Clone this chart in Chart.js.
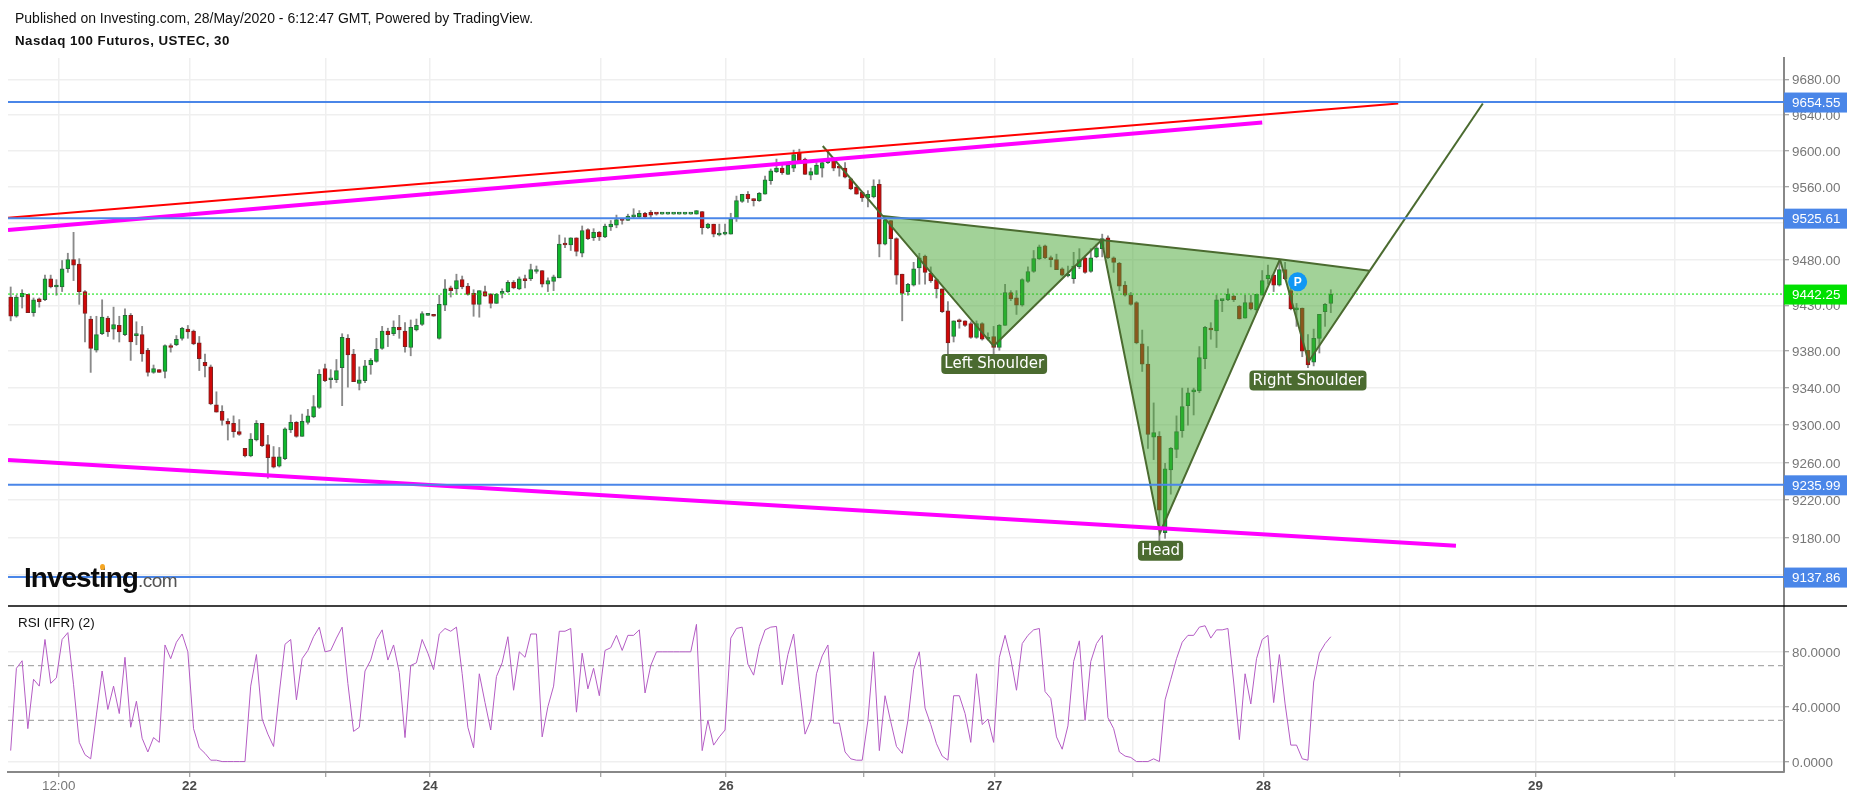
<!DOCTYPE html>
<html lang="en">
<head>
<meta charset="UTF-8">
<title>Nasdaq 100 Futuros, USTEC, 30</title>
<script src="https://cdn.jsdelivr.net/npm/chart.js"></script>
<style>
    html, body { margin: 0; padding: 0; background: #fff; overflow: hidden; }
    body { width: 1854px; height: 800px; position: relative; font-family: "Liberation Sans", Arial, sans-serif; }
    canvas { position: absolute; left: 0; top: 0; }
    .note { position: absolute; white-space: nowrap; color: #111; }
    #published { left: 15px; top: 10px; font-size: 14px; }
    #symbol { left: 15px; top: 33px; font-size: 13.3px; font-weight: bold; letter-spacing: 0.45px; }
    #rsiName { left: 18px; top: 615px; font-size: 13.4px; }
    #logo { left: 24px; top: 562px; font-size: 28px; font-weight: bold; letter-spacing: -1px; color: #0b0b0b; }
    #logo span { font-size: 19px; font-weight: normal; color: #555; letter-spacing: -0.5px; }
    #logoDot { position: absolute; left: 100px; top: 564px; width: 5px; height: 6px; border-radius: 50%; background: #f5a623; }
</style>
</head>
<body>
<canvas id="chart" width="1854" height="800"></canvas>
<div class="note" id="published">Published on Investing.com, 28/May/2020 - 6:12:47 GMT, Powered by TradingView.</div>
<div class="note" id="symbol">Nasdaq 100 Futuros, USTEC, 30</div>
<div class="note" id="rsiName">RSI (IFR) (2)</div>
<div class="note" id="logo">Investing<span>.com</span></div>
<div id="logoDot"></div>

<script>
// candles (30 minute bars)
const opens = [
    9439,9418,9439,9442,9422,9437,9436,9459,9450,9450,
    9470,9480,9475,9445,9415,9381,9399,9416,9404,9408,
    9398,9419,9397,9398,9381,9357,9360,9358,9386,9387,
    9394,9404,9402,9389,9368,9363,9322,9315,9304,9302,
    9293,9275,9267,9284,9302,9279,9266,9256,9264,9295,
    9303,9288,9303,9309,9319,9361,9349,9349,9362,9394,
    9377,9345,9348,9365,9369,9383,9402,9399,9406,9402,
    9384,9403,9409,9419,9419,9394,9430,9449,9448,9458,
    9451,9443,9431,9445,9442,9432,9443,9445,9455,9448,
    9459,9459,9467,9468,9453,9456,9460,9498,9496,9504,
    9487,9513,9504,9510,9505,9516,9518,9524,9523,9527,
    9527,9531,9532,9531,9530,9530,9530,9530,9530,9530,
    9530,9533,9515,9519,9507,9508,9508,9525,9544,9552,
    9546,9545,9552,9567,9577,9581,9574,9581,9598,9591,
    9573,9574,9581,9587,9591,9582,9581,9569,9560,9554,
    9548,9549,9563,9497,9523,9503,9464,9445,9452,9471,
    9484,9465,9458,9448,9424,9396,9414,9413,9410,9395,
    9410,9393,9396,9384,9408,9444,9438,9430,9456,9467,
    9481,9495,9481,9480,9470,9462,9459,9472,9482,9467,
    9483,9492,9504,9482,9476,9452,9441,9433,9388,9366,
    9287,9288,9185,9252,9274,9294,9321,9336,9337,9372,
    9405,9402,9435,9436,9440,9429,9416,9433,9425,9441,
    9459,9463,9452,9469,9446,9425,9427,9381,9368,9394,9423,9432
];
const highs = [
    9450,9441,9447,9442,9438,9438,9463,9463,9458,9479,
    9487,9510,9481,9446,9418,9418,9436,9418,9428,9418,
    9426,9421,9412,9407,9383,9365,9360,9387,9388,9397,
    9406,9408,9403,9396,9377,9365,9336,9321,9307,9310,
    9306,9275,9291,9305,9302,9289,9277,9276,9297,9311,
    9304,9312,9317,9332,9360,9366,9360,9371,9399,9398,
    9382,9363,9370,9372,9394,9407,9405,9413,9419,9411,
    9414,9415,9423,9420,9419,9441,9458,9451,9464,9462,
    9454,9447,9446,9451,9443,9443,9448,9457,9457,9461,
    9463,9475,9473,9468,9460,9463,9507,9504,9504,9504,
    9517,9514,9514,9511,9519,9523,9529,9525,9530,9536,
    9534,9532,9534,9531,9530,9530,9530,9530,9530,9530,
    9534,9533,9520,9519,9519,9519,9531,9550,9552,9555,
    9547,9554,9572,9580,9591,9587,9587,9601,9602,9592,
    9581,9587,9589,9600,9593,9583,9587,9570,9561,9555,
    9556,9568,9568,9527,9523,9504,9464,9454,9477,9487,
    9485,9472,9459,9448,9434,9413,9415,9413,9412,9413,
    9411,9400,9407,9409,9453,9446,9446,9459,9472,9490,
    9496,9496,9484,9486,9471,9473,9488,9492,9484,9492,
    9497,9508,9506,9483,9477,9456,9444,9434,9403,9385,
    9324,9293,9259,9276,9310,9340,9340,9340,9385,9407,
    9411,9441,9436,9448,9441,9430,9441,9441,9442,9468,
    9474,9463,9480,9477,9453,9432,9427,9398,9404,9420,9432,9447
];
const lows = [
    9413,9417,9427,9422,9418,9428,9435,9449,9441,9445,
    9466,9457,9431,9390,9357,9379,9398,9396,9393,9390,
    9397,9370,9387,9369,9353,9356,9357,9351,9379,9386,
    9392,9394,9387,9359,9352,9322,9314,9300,9284,9287,
    9289,9266,9266,9283,9277,9243,9254,9255,9263,9292,
    9287,9288,9301,9308,9318,9347,9340,9346,9321,9341,
    9347,9338,9346,9355,9368,9382,9385,9397,9394,9379,
    9375,9402,9408,9419,9418,9393,9424,9439,9442,9448,
    9441,9418,9417,9440,9427,9432,9438,9444,9448,9447,
    9449,9457,9465,9450,9445,9446,9460,9493,9490,9484,
    9483,9502,9501,9501,9504,9512,9515,9519,9523,9526,
    9526,9526,9526,9529,9530,9530,9530,9530,9530,9530,
    9530,9508,9514,9505,9506,9507,9508,9522,9543,9543,
    9539,9544,9552,9563,9576,9574,9574,9577,9589,9574,
    9568,9574,9571,9586,9578,9572,9570,9557,9552,9544,
    9538,9548,9483,9496,9480,9453,9413,9441,9451,9453,
    9453,9455,9438,9422,9376,9390,9405,9407,9394,9394,
    9392,9392,9377,9381,9408,9435,9420,9429,9455,9466,
    9480,9481,9472,9469,9462,9461,9454,9470,9465,9466,
    9482,9483,9481,9466,9446,9440,9430,9388,9358,9275,
    9263,9175,9179,9226,9265,9287,9300,9311,9335,9361,
    9393,9384,9423,9435,9434,9415,9416,9425,9422,9441,
    9453,9445,9451,9458,9425,9407,9374,9362,9364,9378,9407,9422
];
const closes = [
    9418,9439,9443,9422,9436,9434,9459,9450,9451,9470,
    9480,9474,9445,9421,9383,9398,9417,9401,9409,9401,
    9419,9390,9398,9377,9357,9361,9357,9386,9384,9393,
    9405,9401,9388,9372,9364,9323,9314,9305,9301,9293,
    9290,9267,9285,9302,9278,9265,9255,9266,9296,9303,
    9288,9304,9310,9320,9355,9348,9350,9359,9395,9376,
    9347,9349,9364,9370,9382,9402,9398,9406,9403,9385,
    9406,9408,9421,9420,9418,9431,9448,9446,9457,9450,
    9442,9431,9446,9440,9432,9442,9444,9455,9449,9459,
    9457,9469,9469,9453,9457,9461,9497,9496,9504,9489,
    9512,9503,9510,9505,9517,9519,9524,9523,9528,9529,
    9531,9527,9529,9530,9530,9530,9530,9530,9530,9530,
    9534,9515,9519,9508,9509,9510,9525,9545,9552,9547,
    9545,9553,9568,9578,9581,9576,9584,9596,9589,9574,
    9577,9584,9587,9591,9581,9581,9571,9558,9552,9548,
    9552,9561,9497,9524,9503,9463,9443,9453,9470,9482,
    9466,9457,9448,9423,9389,9413,9412,9408,9395,9410,
    9393,9394,9384,9408,9444,9437,9430,9458,9467,9481,
    9494,9482,9480,9469,9463,9464,9473,9480,9466,9482,
    9493,9503,9482,9477,9451,9441,9431,9389,9366,9290,
    9292,9209,9253,9275,9293,9320,9335,9338,9373,9406,
    9403,9436,9436,9442,9436,9415,9433,9426,9442,9457,
    9463,9452,9469,9459,9426,9427,9380,9365,9394,9420,9431,9442
];
// RSI (2), one value per candle
const rsiValues = [
    8,68,73.5,24,60,55,89,57,61,89,
    94,56,14,5,2,34,66,38,55,35,
    76,25,44,17,7,17.5,14,85,75,87,
    93,80,24,10,6,1,1,0,0,0,
    0,0,55,78,31,20,11,50,85.5,89,
    45,75,81,91,98,80,81,90,98,57,
    22,25,66,74,89,96,74,85,65,17.5,
    70,72,89,79,67,93,97,95,98,64,
    25,10,64,43,23,62,72,91,52,80,
    76,93,93,18,40,55,95,95,97,36,
    79,53,68,48,81,83,92,81,92,92,
    96,50,70,80,80,80,80,80,80,80,
    100,8,30,12,18,23,90,97,98,71,
    63,84,96,98,98.5,56,78,93,55,20,
    30,64,77,85,28,28,7,2,1,1,
    30,80,8,48,29,11,6,30,67,80,
    39,27,13,4,1,48,48,35,14,64,
    27,31,14,76,92,75,52,86,92,96,
    97,51,46,18,9,26,73,88,30,73,
    86,92,32,24,7,4,3,0,0,0,
    2,0,45,60,75,87,92,92,98,99,
    90,96,96,97,58,16,64,42,75,89,
    92,43,78,42,12,12,2,1,58,79,86,91
];

// axes (bar numbers, not dates: weekends and closures are not on the axis)
const xTickPositions = [8.4,31.3,55.2,73.4,103.3,125.2,149.2,172.2,196.3,219.2,243,266.8,291.2];
const xTickLabels = ['12:00','22','','24','','26','','27','','28','','29',''];
const priceTicks = [9680,9640,9600,9560,9520,9480,9430,9380,9340,9300,9260,9220,9180,9140];
const rsiTicks = [0,40,80];
const rsiLevels = [70,30];

// horizontal levels with their labels on the price axis
const levelPrices = [9654.55,9525.61,9235.99,9137.86];
const lastPrice = 9442.25;

// hand drawn lines as bar number / price
const redLineX = [-0.47,242.8];
const redLineY = [9526.1,9652.9];
const upperChannelX = [-0.47,219];
const upperChannelY = [9512.6,9631.8];
const lowerChannelX = [-0.47,252.9];
const lowerChannelY = [9262.5,9171];
const approachX = [142.1,152.6];
const approachY = [9605.5,9527.9];
const neckX = [152.6,190.9,222.1,237.8];
const neckY = [9527.9,9501.5,9480.3,9467.7];
const dipX = [172,201.1,227.1];
const dipY = [9385.6,9184.6,9368.6];
const breakoutX = [237.8,257.6];
const breakoutY = [9467.7,9652.9];

const calloutLabels = ['Left Shoulder','Head','Right Shoulder'];
const calloutX = [172.1,201.2,227];
const calloutY = [9366.1,9165.7,9348.2];
const markerX = 225.2;
const markerY = 9455.6;

const xMin = -0.47, xMax = 310.3;
const priceMin = 9107.3, priceMax = 9703.9;
const rsiMin = -7.6, rsiMax = 113.4;

const PATTERN = '#4b6b30';
const PATTERN_FILL = 'rgba(70,165,50,0.5)';
const BLUE = '#4a86e8';
const LIME = '#00e000';
const AXIS = '#888888';
const GRID = '#efefef';

const points = (xs, ys) => xs.map((x, i) => ({x: x, y: ys[i]}));

function lineSet(data, color, width, extra) {
    return Object.assign({
        type: 'line', data: data, borderColor: color, borderWidth: width,
        pointRadius: 0, tension: 0, fill: false, order: 1, yAxisID: 'y'
    }, extra || {});
}

const isUp = opens.map((o, i) => closes[i] >= o);

const datasets = [
    {
        type: 'bar', label: 'wicks', order: 6, yAxisID: 'y',
        data: highs.map((h, i) => ({x: i, y: [lows[i], h]})),
        backgroundColor: '#8a8a8a', barThickness: 1.2, grouped: false, borderSkipped: false
    },
    {
        type: 'bar', label: 'bodies', order: 5, yAxisID: 'y',
        data: opens.map((o, i) => ({x: i, y: [o, closes[i]]})),
        backgroundColor: isUp.map(u => u ? '#0fb82b' : '#d00808'),
        borderColor: isUp.map(u => u ? '#27693a' : '#7c2222'),
        borderWidth: 1, barThickness: 4, minBarLength: 2, grouped: false, borderSkipped: false
    },
    lineSet(points([xMin, xMax], [rsiLevels[0], rsiLevels[0]]), '#aaaaaa', 1.3, {yAxisID: 'rsi', borderDash: [6, 4], order: 4}),
    lineSet(points([xMin, xMax], [rsiLevels[1], rsiLevels[1]]), '#aaaaaa', 1.3, {yAxisID: 'rsi', borderDash: [6, 4], order: 4}),
    lineSet(rsiValues.map((v, i) => ({x: i, y: v})), '#b45cc4', 1, {yAxisID: 'rsi', order: 3}),
    lineSet(points([xMin, xMax], [lastPrice, lastPrice]), LIME, 1, {borderDash: [2, 2], order: 2})
];

levelPrices.forEach(p => {
    datasets.push(lineSet(points([xMin, xMax], [p, p]), BLUE, 2));
});
datasets.push(lineSet(points(redLineX, redLineY), '#ff0000', 2));
datasets.push(lineSet(points(upperChannelX, upperChannelY), '#ff00ff', 4));
datasets.push(lineSet(points(lowerChannelX, lowerChannelY), '#ff00ff', 4));
datasets.push(lineSet(points(approachX, approachY), PATTERN, 2));
datasets.push(lineSet(points(breakoutX, breakoutY), PATTERN, 2));

// the three triangles: neck edge first, then the two lower edges filled up to it
dipX.forEach((x, i) => {
    const edgeX = [neckX[i], neckX[i + 1]];
    const edgeY = [neckY[i], neckY[i + 1]];
    datasets.push(lineSet(points(edgeX, edgeY), PATTERN, 2));
    datasets.push(lineSet(points([edgeX[0], x, edgeX[1]], [edgeY[0], dipY[i], edgeY[1]]), PATTERN, 2, {
        fill: {target: '-1', above: PATTERN_FILL, below: PATTERN_FILL}
    }));
});

function roundedBox(ctx, x, y, w, h, r, color) {
    ctx.fillStyle = color;
    ctx.beginPath();
    ctx.roundRect(x, y, w, h, r);
    ctx.fill();
}

const extras = {
    id: 'extras',
    afterDraw(chart) {
        const ctx = chart.ctx, x = chart.scales.x, y = chart.scales.y, rsi = chart.scales.rsi;
        ctx.save();

        // black line between the two panes
        ctx.strokeStyle = '#000';
        ctx.lineWidth = 1.5;
        ctx.beginPath();
        ctx.moveTo(chart.chartArea.left, rsi.top);
        ctx.lineTo(1847, rsi.top);
        ctx.stroke();

        // price labels on the axis
        ctx.font = '13.4px "Liberation Sans", Arial, sans-serif';
        ctx.textBaseline = 'middle';
        ctx.textAlign = 'left';
        const badge = (value, color) => {
            const py = y.getPixelForValue(value);
            ctx.fillStyle = color;
            ctx.fillRect(x.right, py - 9.5, 63, 20);
            ctx.fillStyle = '#fff';
            ctx.fillText(value.toFixed(2), 1792, py + 1.5);
        };
        levelPrices.forEach(p => badge(p, BLUE));
        badge(lastPrice, LIME);

        // callouts
        ctx.textAlign = 'center';
        ctx.font = '15px "DejaVu Sans", sans-serif';
        calloutLabels.forEach((label, i) => {
            const cx = x.getPixelForValue(calloutX[i]);
            const cy = y.getPixelForValue(calloutY[i]);
            const w = ctx.measureText(label).width + 6;
            roundedBox(ctx, cx - w / 2, cy - 10, w, 20, 4, PATTERN);
            ctx.fillStyle = '#fff';
            ctx.fillText(label, cx, cy + 0.5);
        });

        // P marker
        const mx = x.getPixelForValue(markerX), my = y.getPixelForValue(markerY);
        ctx.fillStyle = '#0f97f4';
        ctx.beginPath();
        ctx.arc(mx, my, 9.5, 0, Math.PI * 2);
        ctx.fill();
        ctx.fillStyle = '#fff';
        ctx.font = 'bold 12px "Liberation Sans", Arial, sans-serif';
        ctx.fillText('P', mx, my + 0.5);

        ctx.restore();
    }
};

new Chart(document.getElementById('chart'), {
    type: 'bar',
    data: {datasets: datasets},
    plugins: [extras],
    options: {
        responsive: false,
        animation: false,
        events: [],
        layout: {padding: {left: 8, top: 58, right: 0, bottom: 0}},
        plugins: {legend: {display: false}, tooltip: {enabled: false}},
        scales: {
            x: {
                type: 'linear', min: xMin, max: xMax, offset: false,
                afterBuildTicks(axis) { axis.ticks = xTickPositions.map(v => ({value: v})); },
                afterFit(axis) { axis.height = 28; },
                grid: {color: GRID, lineWidth: 1.5, offset: false, tickColor: AXIS, tickLength: 5, tickWidth: 1},
                border: {color: AXIS, width: 2},
                ticks: {
                    autoSkip: false, maxRotation: 0, padding: 1,
                    callback: (v, i) => xTickLabels[i],
                    color: ctx => ctx.index === 0 ? '#777777' : '#4a4a4a',
                    font: ctx => ({
                        family: '"Liberation Sans", Arial, sans-serif', size: 13.4,
                        weight: ctx.index === 0 ? 'normal' : 'bold'
                    })
                }
            },
            y: {
                type: 'logarithmic', position: 'right', stack: 'panes', stackWeight: 548,
                min: priceMin, max: priceMax,
                afterBuildTicks(axis) { axis.ticks = priceTicks.map(v => ({value: v})); },
                afterFit(axis) { axis.width = 70; },
                grid: {color: GRID, lineWidth: 1.5, tickColor: AXIS, tickLength: 5, tickWidth: 1},
                border: {color: AXIS, width: 2},
                ticks: {
                    autoSkip: false, padding: 3, labelOffset: 1.5, color: '#777777',
                    font: {family: '"Liberation Sans", Arial, sans-serif', size: 13.4},
                    callback: v => v.toFixed(2)
                }
            },
            rsi: {
                type: 'linear', position: 'right', stack: 'panes', stackWeight: 166,
                min: rsiMin, max: rsiMax,
                afterBuildTicks(axis) { axis.ticks = rsiTicks.map(v => ({value: v})); },
                afterFit(axis) { axis.width = 70; },
                grid: {color: GRID, lineWidth: 1.5, tickColor: AXIS, tickLength: 5, tickWidth: 1},
                border: {color: AXIS, width: 2},
                ticks: {
                    autoSkip: false, padding: 3, labelOffset: 1.5, color: '#777777',
                    font: {family: '"Liberation Sans", Arial, sans-serif', size: 13.4},
                    callback: v => v.toFixed(4)
                }
            }
        }
    }
});
</script>
</body>
</html>
